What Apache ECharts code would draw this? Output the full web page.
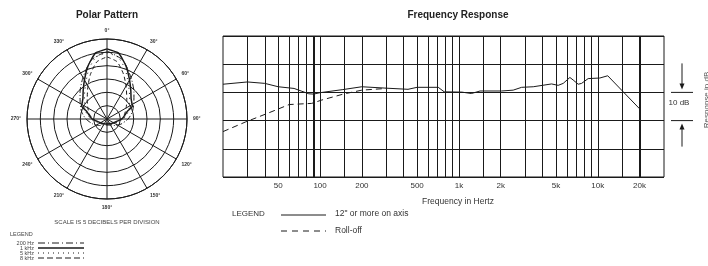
<!DOCTYPE html>
<html>
<head>
<meta charset="utf-8">
<title>Polar Pattern / Frequency Response</title>
<script src="https://cdn.jsdelivr.net/npm/echarts@6/dist/echarts.min.js"></script>
<style>
  html, body { margin: 0; padding: 0; background: #fff; }
  #chart { width: 708px; height: 266px; }
</style>
</head>
<body>
<div id="chart"></div>
<script>
// frequency response, [Hz, dB]
var onAxis = [[20,2.9],[30,3.7],[40,3.2],[50,2.0],[65,1.4],[74,0.4],[83,-0.5],[90,-0.6],[100,-0.1],
  [146,1.0],[200,2.0],[300,1.5],[430,1.1],[500,1.8],[710,1.8],[784,0.2],[1050,0.1],[1230,-0.4],
  [1420,0.5],[2030,0.5],[2460,0.8],[2830,1.8],[3430,2.0],[4650,3.0],[5190,2.5],[5640,3.2],
  [6300,5.3],[6650,4.4],[7230,2.9],[7650,3.2],[8530,4.9],[10350,5.1],[11800,5.9],[20000,-5.8]];
var rollOff = [[20,-13.9],[29,-10.5],[42,-7.4],[60,-4.3],[87,-3.9],[103,-2.7],[147,-0.6],[200,0.8],[280,1.3],[300,1.5]];

// grid lines and tick labels of the log axis
var gridFreqs = [30,40,50,60,70,80,90,100,150,200,300,400,500,600,700,800,900,1000,1500,
  2000,3000,4000,5000,6000,7000,8000,9000,10000,15000,20000];
var tickFreqs = [50,100,200,500,1000,2000,5000,10000,20000];
var tickLabels = ['50','100','200','500','1k','2k','5k','10k','20k'];

// polar pattern, half of each curve (0..180 deg), radius in dB above the centre (6 div x 5 dB)
var angles200 = [0,15,30,45,60,75,90,110,130,150,180];
var r200 = [25.5,22.9,18.0,14.3,11.6,9.8,7.9,5.6,3.8,2.6,2.3];
var angles1k = [0,10,20,30,40,50,60,63,70,80,90,100,120,150,180];
var r1k = [26.3,25.1,21.0,16.9,13.9,11.8,10.9,10.7,8.0,6.6,5.6,4.1,2.8,2.1,1.9];
var angles5k = [0,10,20,30,45,60,75,90,120,150,180];
var r5k = [24.8,23.6,19.9,15.8,12.0,9.8,7.9,6.0,3.4,2.3,1.9];
var angles8k = [0,10,20,30,45,60,75,90,120,150,180];
var r8k = [23.3,21.8,18.0,14.3,10.5,8.3,6.8,5.3,3.0,1.9,1.5];

var FONT = 'Liberation Sans, Arial, sans-serif';
var INK = '#1a1a1a';

// symmetric pattern: right half then mirrored left half
function pattern(angles, radii) {
  var pts = [];
  for (var i = 0; i < angles.length; i++) pts.push([radii[i], angles[i]]);
  for (var j = angles.length - 2; j >= 0; j--) pts.push([radii[j], 360 - angles[j]]);
  return pts;
}

var myChart = echarts.init(document.getElementById('chart'), null, { renderer: 'canvas' });

var markData = gridFreqs.map(function (f) {
  var item = { xAxis: f, label: { show: false } };
  if (f === 90 || f === 20000) item.lineStyle = { width: 2 };
  var k = tickFreqs.indexOf(f);
  if (k >= 0) {
    item.label = { show: true, position: 'start', formatter: tickLabels[k], distance: 5,
      fontSize: 8, fontFamily: FONT, color: '#333' };
  }
  return item;
});

var option = {
  animation: false,
  backgroundColor: '#fff',
  polar: { center: [107, 119], radius: 80 },
  angleAxis: {
    type: 'value', min: 0, max: 360, interval: 30, startAngle: 90, clockwise: true,
    axisLine: { lineStyle: { color: INK, width: 1 } },
    axisTick: { show: false },
    splitLine: { show: true, lineStyle: { color: INK, width: 1 } },
    axisLabel: {
      margin: 6, fontSize: 5, fontWeight: 'bold', fontFamily: FONT, color: '#333',
      formatter: function (v) { return v === 360 ? '' : v + '°'; }
    }
  },
  radiusAxis: {
    type: 'value', min: 0, max: 30, interval: 5,
    axisLine: { show: false }, axisTick: { show: false }, axisLabel: { show: false },
    splitLine: { show: true, lineStyle: { color: INK, width: 1 } }
  },
  grid: { left: 223, right: 44, top: 36, bottom: 89, show: true, borderColor: INK, borderWidth: 1 },
  xAxis: {
    type: 'log', logBase: 10, min: 20, max: 30000,
    axisLine: { show: false }, axisTick: { show: false }, axisLabel: { show: false },
    splitLine: { show: false }
  },
  yAxis: {
    type: 'value', min: -30, max: 20, interval: 10,
    axisLine: { show: false }, axisTick: { show: false }, axisLabel: { show: false },
    splitLine: { show: true, lineStyle: { color: INK, width: 1 } }
  },
  series: [
    {
      name: '12" or more on axis', type: 'line', data: onAxis, symbol: 'none',
      lineStyle: { color: INK, width: 1 }, z: 5,
      markLine: {
        silent: true, symbol: ['none', 'none'], animation: false,
        lineStyle: { color: INK, width: 1, type: 'solid' },
        data: markData
      }
    },
    {
      name: 'Roll-off', type: 'line', data: rollOff, symbol: 'none',
      lineStyle: { color: INK, width: 1, type: [6, 4] }, z: 5
    },
    { name: '200 Hz', type: 'line', coordinateSystem: 'polar', data: pattern(angles200, r200),
      symbol: 'none', smooth: 0.2, lineStyle: { color: INK, width: 1, type: [6, 2, 1, 2] }, z: 5 },
    { name: '1 kHz', type: 'line', coordinateSystem: 'polar', data: pattern(angles1k, r1k),
      symbol: 'none', smooth: 0.15, lineStyle: { color: INK, width: 1.5 }, z: 6 },
    { name: '5 kHz', type: 'line', coordinateSystem: 'polar', data: pattern(angles5k, r5k),
      symbol: 'none', smooth: 0.2, lineStyle: { color: INK, width: 1, type: [1, 4] }, z: 5 },
    { name: '8 kHz', type: 'line', coordinateSystem: 'polar', data: pattern(angles8k, r8k),
      symbol: 'none', smooth: 0.2, lineStyle: { color: INK, width: 1, type: [4, 3] }, z: 5 }
  ]
};
myChart.setOption(option);

// texts, legends and the 10 dB marker
var y0 = myChart.convertToPixel({ yAxisIndex: 0 }, 0);
var y10 = myChart.convertToPixel({ yAxisIndex: 0 }, -10);

function txt(s, x, y, size, opt) {
  opt = opt || {};
  return { type: 'text', silent: true, rotation: opt.rotation || 0, x: x, y: y,
    style: { text: s, fill: opt.fill || '#222', font: (opt.bold ? 'bold ' : '') + size + 'px ' + FONT,
      textAlign: opt.align || 'left', textVerticalAlign: 'middle' } };
}
function seg(x1, y1, x2, y2, w, dash) {
  return { type: 'line', silent: true, shape: { x1: x1, y1: y1, x2: x2, y2: y2 },
    style: { stroke: INK, lineWidth: w || 1, lineDash: dash || null } };
}

var graphics = [
  txt('Polar Pattern', 107, 15, 10, { bold: true, align: 'center' }),
  txt('Frequency Response', 458, 15, 10, { bold: true, align: 'center' }),
  txt('SCALE IS 5 DECIBELS PER DIVISION', 107, 222, 6, { align: 'center', fill: '#444' }),
  txt('LEGEND', 10, 234, 5.5, { fill: '#444' }),
  txt('200 Hz', 34, 243, 5.5, { align: 'right', fill: '#444' }),
  txt('1 kHz', 34, 248, 5.5, { align: 'right', fill: '#444' }),
  txt('5 kHz', 34, 253, 5.5, { align: 'right', fill: '#444' }),
  txt('8 kHz', 34, 258, 5.5, { align: 'right', fill: '#444' }),
  seg(38, 243, 84, 243, 1, [7, 3, 1, 3]),
  seg(38, 248, 84, 248, 1.5),
  seg(38, 253, 84, 253, 1, [1, 4]),
  seg(38, 258, 84, 258, 1, [6, 3]),
  txt('Frequency in Hertz', 458, 202, 8.5, { align: 'center', fill: '#333' }),
  txt('LEGEND', 232, 214, 8, { fill: '#333' }),
  seg(281, 215, 326, 215, 1),
  txt('12" or more on axis', 335, 214, 8.5, { fill: '#333' }),
  seg(281, 231, 326, 231, 1, [6, 5]),
  txt('Roll-off', 335, 231, 8.5, { fill: '#333' }),
  seg(671, y0, 693, y0, 1),
  seg(671, y10, 693, y10, 1),
  seg(682, y0 - 29, 682, y0 - 6, 1),
  { type: 'polygon', silent: true, shape: { points: [[679.5, y0 - 9], [684.5, y0 - 9], [682, y0 - 3]] }, style: { fill: INK } },
  seg(682, y10 + 6, 682, y10 + 26, 1),
  { type: 'polygon', silent: true, shape: { points: [[679.5, y10 + 9], [684.5, y10 + 9], [682, y10 + 3]] }, style: { fill: INK } },
  txt('10 dB', 679, y0 + 10, 8, { align: 'center', fill: '#333' }),
  txt('Response in dB', 707, 100, 8, { align: 'center', fill: '#555', rotation: Math.PI / 2 })
];
myChart.setOption({ graphic: graphics });
</script>
</body>
</html>
